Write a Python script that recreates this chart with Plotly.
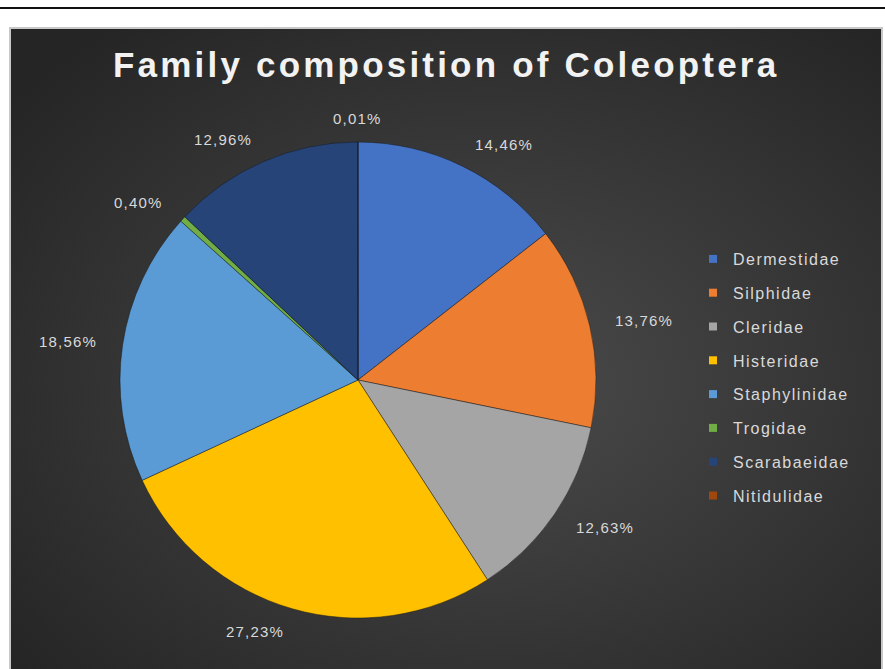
import base64
import math
import plotly.graph_objects as go

# ---- data ----
families = ["Dermestidae", "Silphidae", "Cleridae", "Histeridae",
            "Staphylinidae", "Trogidae", "Scarabaeidae", "Nitidulidae"]
percentages = [14.46, 13.76, 12.63, 27.23, 18.56, 0.40, 12.96, 0.01]
colors = ["#4472C4", "#ED7D31", "#A5A5A5", "#FFC000",
          "#5B9BD5", "#70AD47", "#264478", "#9E480E"]
title_text = "Family composition of Coleoptera"

W, H = 885, 669
cx, cy, R = 358, 380, 238  # pie centre / radius in pixels
FONT = "Liberation Sans, Arial, sans-serif"


def spaced(t, px):
    return f'<span style="letter-spacing:{px}px">{t}</span>'


fig = go.Figure()

fig.add_trace(go.Pie(
    labels=families, values=percentages, sort=False, direction="clockwise",
    rotation=0, marker=dict(colors=colors, line=dict(color="rgba(20,20,20,0.45)", width=1)),
    textinfo="none", hoverinfo="label+percent", showlegend=False,
    domain=dict(x=[(cx - R) / W, (cx + R) / W], y=[1 - (cy + R) / H, 1 - (cy - R) / H]),
))

# legend via dummy traces (one group per family for spacing)
for fam, col in zip(families, colors):
    fig.add_trace(go.Scatter(x=[None], y=[None], mode="markers", name=spaced(fam, 1.5),
                             legendgroup=fam,
                             marker=dict(symbol="square", size=8, color=col),
                             showlegend=True))

# percentage labels placed outside the slices
total = sum(percentages)
annotations = []
cum = 0.0
for v in percentages:
    mid = (cum + v / 2) / total * 2 * math.pi
    cum += v
    s, c = math.sin(mid), math.cos(mid)
    d = R * 1.1
    px = cx + d * s
    py = cy - d * c
    if s > 0.15:
        xa = "left"
    elif s < -0.15:
        xa = "right"
    else:
        xa = "center"
    annotations.append(dict(
        x=px / W, y=1 - py / H, xref="paper", yref="paper",
        text=spaced(f"{v:.2f}".replace(".", ",") + "%", 1.2), showarrow=False,
        xanchor=xa, yanchor="middle",
        font=dict(size=15, color="#d9d9d9", family=FONT),
    ))

annotations.append(dict(
    x=446 / W, y=1 - 64 / H, xref="paper", yref="paper",
    text="<b>" + spaced(title_text, 3.2) + "</b>",
    showarrow=False, xanchor="center", yanchor="middle",
    font=dict(size=35, color="#f2f2f2", family=FONT),
))

# background gradient panel as svg
svg = ('<svg xmlns="http://www.w3.org/2000/svg" width="872" height="641" '
       'preserveAspectRatio="none" viewBox="0 0 872 641">'
       '<defs><radialGradient id="g" cx="55%" cy="55%" r="70%">'
       '<stop offset="0%" stop-color="#4b4b4b"/>'
       '<stop offset="100%" stop-color="#252525"/>'
       '</radialGradient></defs>'
       '<rect width="872" height="641" fill="url(#g)"/></svg>')
src = "data:image/svg+xml;base64," + base64.b64encode(svg.encode()).decode()

px0, py0, px1, py1 = 10, 28, 882, 669

fig.update_layout(
    width=W, height=H, margin=dict(l=0, r=0, t=0, b=0),
    paper_bgcolor="white", plot_bgcolor="rgba(0,0,0,0)",
    xaxis=dict(visible=False, domain=[0.9, 0.95]),
    yaxis=dict(visible=False, domain=[0.9, 0.95]),
    images=[dict(source=src, xref="paper", yref="paper", x=px0 / W, y=1 - py0 / H,
                 sizex=(px1 - px0) / W, sizey=(py1 - py0) / H, sizing="stretch",
                 xanchor="left", yanchor="top", layer="below")],
    shapes=[
        dict(type="rect", xref="paper", yref="paper", x0=px0 / W, x1=px1 / W,
             y0=1 - py1 / H - 0.01, y1=1 - py0 / H, line=dict(color="#c8c8c8", width=2),
             fillcolor="rgba(0,0,0,0)", layer="below"),
        dict(type="line", xref="paper", yref="paper", x0=0, x1=1,
             y0=1 - 8 / H, y1=1 - 8 / H, line=dict(color="#111111", width=2)),
    ],
    annotations=annotations,
    legend=dict(x=693 / W, y=1 - 242 / H, xanchor="left", yanchor="top",
                bgcolor="rgba(0,0,0,0)", tracegroupgap=10,
                font=dict(size=16, color="#d9d9d9", family=FONT),
                itemwidth=30),
    hovermode=False,
)

fig.write_html("out.html")
